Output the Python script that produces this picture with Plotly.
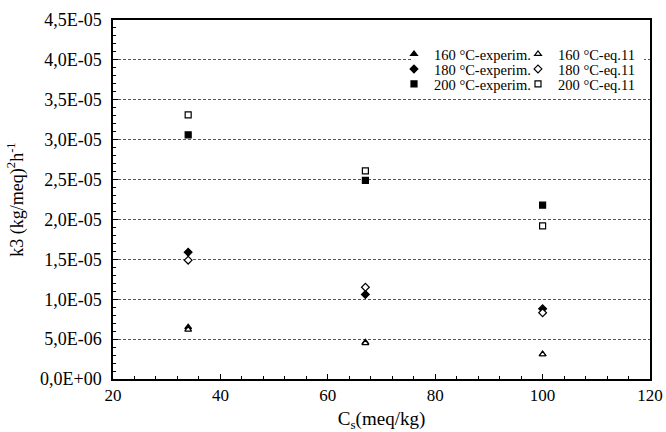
import plotly.graph_objects as go

cs = [34, 67, 100]
exp160 = [6.5e-6, 4.6e-6, 3.1e-6]
eq160 = [6.2e-6, 4.5e-6, 3.1e-6]
exp180 = [1.59e-5, 1.06e-5, 8.8e-6]
eq180 = [1.49e-5, 1.15e-5, 8.3e-6]
exp200 = [3.06e-5, 2.49e-5, 2.18e-5]
eq200 = [3.31e-5, 2.61e-5, 1.92e-5]

y_tickvals = [0, 5e-6, 1e-5, 1.5e-5, 2e-5, 2.5e-5, 3e-5, 3.5e-5, 4e-5, 4.5e-5]
y_ticktext = ["0,0E+00", "5,0E-06", "1,0E-05", "1,5E-05", "2,0E-05",
              "2,5E-05", "3,0E-05", "3,5E-05", "4,0E-05", "4,5E-05"]

series = [
    ("160 °C-experim.", exp160, "triangle-up", "black", "legend"),
    ("180 °C-experim.", exp180, "diamond", "black", "legend2"),
    ("200 °C-experim.", exp200, "square", "black", "legend3"),
    ("160 °C-eq.11", eq160, "triangle-up", "white", "legend"),
    ("180 °C-eq.11", eq180, "diamond", "white", "legend2"),
    ("200 °C-eq.11", eq200, "square", "white", "legend3"),
]

FONT = "Liberation Serif"
fig = go.Figure()
for name, vals, sym, fill, lg in series:
    fig.add_trace(go.Scatter(
        x=cs, y=vals, mode="markers", name=name, legend=lg,
        marker=dict(symbol=sym, size=6, color=fill,
                    line=dict(color="black", width=1.2)),
    ))

# white patch behind the legend (hides the gridline, as in the reference)
fig.add_shape(type="rect", xref="paper", yref="paper", layer="above",
              x0=(413 - 113) / 537, x1=(644 - 113) / 537,
              y0=(379 - 93) / 359, y1=(379 - 43) / 359,
              fillcolor="white", line=dict(width=0))


def leg(row_y):
    return dict(orientation="h", x=(394 - 113) / 537, xanchor="left",
                y=(379 - row_y) / 359, yanchor="middle",
                bgcolor="rgba(0,0,0,0)", font=dict(family=FONT, size=14.5),
                itemwidth=30, borderwidth=0,
                entrywidth=79, entrywidthmode="pixels")


fig.update_layout(
    width=666, height=432,
    margin=dict(l=113, r=16, t=20, b=53),
    paper_bgcolor="white", plot_bgcolor="white",
    font=dict(family=FONT, size=17, color="black"),
    showlegend=True,
    legend=leg(54),
    legend2=leg(69),
    legend3=leg(84),
    xaxis=dict(
        range=[20, 120], tickvals=[20, 40, 60, 80, 100, 120],
        showgrid=False, zeroline=False, automargin=False,
        showline=True, linecolor="black", linewidth=1.5, mirror=True,
        ticks="inside", ticklen=5, tickcolor="black",
        minor=dict(dtick=4, ticks="inside", ticklen=3, tickcolor="black", showgrid=False),
        title=dict(text="C<sub>s</sub>(meq/kg)", font=dict(size=19), standoff=17),
        tickfont=dict(size=17),
    ),
    yaxis=dict(
        range=[0, 4.5e-5], tickvals=y_tickvals, ticktext=y_ticktext,
        showgrid=True, gridcolor="#555555", griddash="3px,2px", gridwidth=1,
        zeroline=False, automargin=False,
        showline=True, linecolor="black", linewidth=1.5, mirror=True,
        ticks="inside", ticklen=5, tickcolor="black",
        minor=dict(dtick=1e-6, ticks="inside", ticklen=3, tickcolor="black", showgrid=False),
        title=dict(text="k3 (kg/meq)<sup>2</sup>h<sup>-1</sup>", font=dict(size=18), standoff=12),
        tickfont=dict(size=18),
        ticklabelstandoff=6,
    ),
)

fig.write_html("out.html")
